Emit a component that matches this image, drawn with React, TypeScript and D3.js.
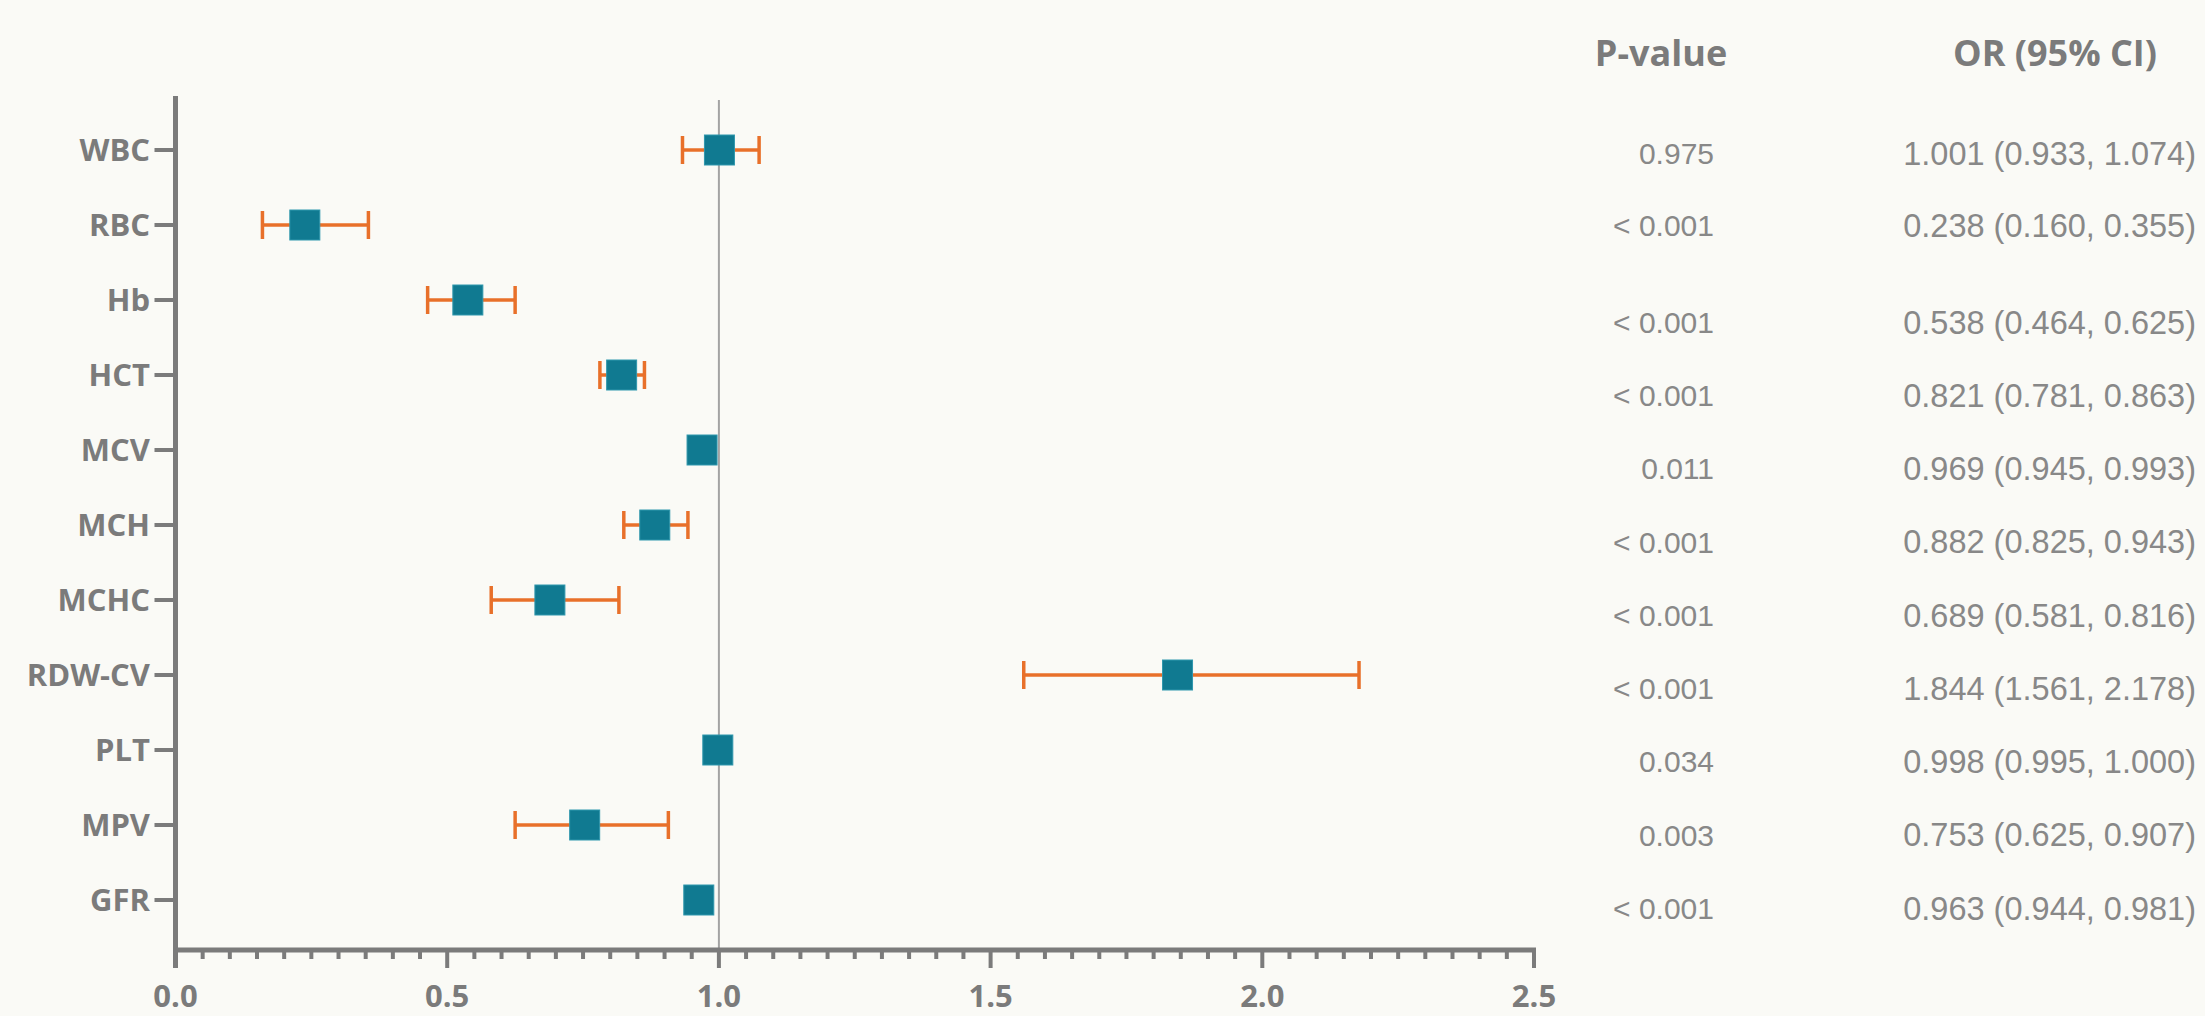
import React from "react";
import * as d3 from "d3";

const categories = ["WBC", "RBC", "Hb", "HCT", "MCV", "MCH", "MCHC", "RDW-CV", "PLT", "MPV", "GFR"];
const oddsRatios = [1.001, 0.238, 0.538, 0.821, 0.969, 0.882, 0.689, 1.844, 0.998, 0.753, 0.963];
const ciLower = [0.933, 0.160, 0.464, 0.781, 0.945, 0.825, 0.581, 1.561, 0.995, 0.625, 0.944];
const ciUpper = [1.074, 0.355, 0.625, 0.863, 0.993, 0.943, 0.816, 2.178, 1.000, 0.907, 0.981];
const pValues = ["0.975", "< 0.001", "< 0.001", "< 0.001", "0.011", "< 0.001", "< 0.001", "< 0.001", "0.034", "0.003", "< 0.001"];
const xTickValues = [0, 0.5, 1.0, 1.5, 2.0, 2.5];
const headers = ["P-value", "OR (95% CI)"];

const W = 2205;
const H = 1016;
const BG = "#fafaf6";
const AXIS = "#7b7b7b";
const TEXT = "#888888";
const TEAL = "#107a91";
const ORANGE = "#e8702a";

export default function App() {
  const x = d3.scaleLinear().domain([0, 2.5]).range([175.5, 1534]);
  const y = d3.scalePoint<string>().domain(categories).range([150, 900]);
  // table rows follow the original's slightly uneven spacing
  const tableY = d3.scaleLinear().domain([0, 1, 2, 10]).range([153, 225, 322, 908]);
  const f3 = d3.format(".3f");
  const axisTop = 96;
  const axisY = 950;
  const minorTicks = d3.range(0, 51).map((i) => i * 0.05).filter((v) => Math.abs(v * 2 - Math.round(v * 2)) > 1e-6);
  const fontBold = "'Open Sans', 'Noto Sans', sans-serif";
  const fontTable = "'Liberation Sans', Arial, sans-serif";
  const capH = 14;

  return (
    <svg width={W} height={H} style={{ position: "absolute", left: 0, top: 0, display: "block" }}>
      <rect x={0} y={0} width={W} height={H} fill={BG} />

      {/* reference line at OR = 1 */}
      <line x1={x(1)} x2={x(1)} y1={axisTop + 4} y2={axisY} stroke="#a3a3a3" strokeWidth={2} />

      {/* y axis */}
      <line x1={x(0)} x2={x(0)} y1={axisTop} y2={968} stroke={AXIS} strokeWidth={5} />
      {categories.map((c) => (
        <g key={c}>
          <line x1={x(0) - 21} x2={x(0)} y1={y(c)} y2={y(c)} stroke={AXIS} strokeWidth={4} />
          <text x={150} y={y(c)} dy="0.36em" textAnchor="end" fontFamily={fontBold} fontWeight={700} fontSize={31} fill={AXIS}>
            {c}
          </text>
        </g>
      ))}

      {/* x axis */}
      <line x1={x(0)} x2={x(2.5) + 2} y1={axisY} y2={axisY} stroke={AXIS} strokeWidth={5} />
      {minorTicks.map((v) => (
        <line key={"m" + v} x1={x(v)} x2={x(v)} y1={axisY} y2={axisY + 9} stroke={AXIS} strokeWidth={4} />
      ))}
      {xTickValues.map((v) => (
        <g key={"t" + v}>
          <line x1={x(v)} x2={x(v)} y1={axisY} y2={968} stroke={AXIS} strokeWidth={4} />
          <text x={x(v)} y={996} dy="0.36em" textAnchor="middle" fontFamily={fontBold} fontWeight={700} fontSize={31} fill={AXIS}>
            {d3.format(".1f")(v)}
          </text>
        </g>
      ))}

      {/* error bars and markers */}
      {categories.map((c, i) => {
        const cy = y(c) as number;
        return (
          <g key={"e" + c}>
            <line x1={x(ciLower[i])} x2={x(ciUpper[i])} y1={cy} y2={cy} stroke={ORANGE} strokeWidth={3.5} />
            <line x1={x(ciLower[i])} x2={x(ciLower[i])} y1={cy - capH} y2={cy + capH} stroke={ORANGE} strokeWidth={3.5} />
            <line x1={x(ciUpper[i])} x2={x(ciUpper[i])} y1={cy - capH} y2={cy + capH} stroke={ORANGE} strokeWidth={3.5} />
            <rect x={x(oddsRatios[i]) - 15} y={cy - 15} width={30} height={30} fill={TEAL} stroke="#2f97ad" strokeWidth={1} />
          </g>
        );
      })}

      {/* table */}
      <text x={1661} y={66} textAnchor="middle" fontFamily={fontBold} fontWeight={700} fontSize={36} fill={AXIS}>
        {headers[0]}
      </text>
      <text x={2055} y={66} textAnchor="middle" fontFamily={fontBold} fontWeight={700} fontSize={36} fill={AXIS}>
        {headers[1]}
      </text>
      {categories.map((c, i) => (
        <g key={"r" + c}>
          <text x={1714} y={tableY(i)} dy="0.36em" textAnchor="end" fontFamily={fontTable} fontSize={30} fill={TEXT}>
            {pValues[i]}
          </text>
          <text x={2196} y={tableY(i)} dy="0.36em" textAnchor="end" fontFamily={fontTable} fontSize={32.5} fill={TEXT}>
            {`${f3(oddsRatios[i])} (${f3(ciLower[i])}, ${f3(ciUpper[i])})`}
          </text>
        </g>
      ))}
    </svg>
  );
}
